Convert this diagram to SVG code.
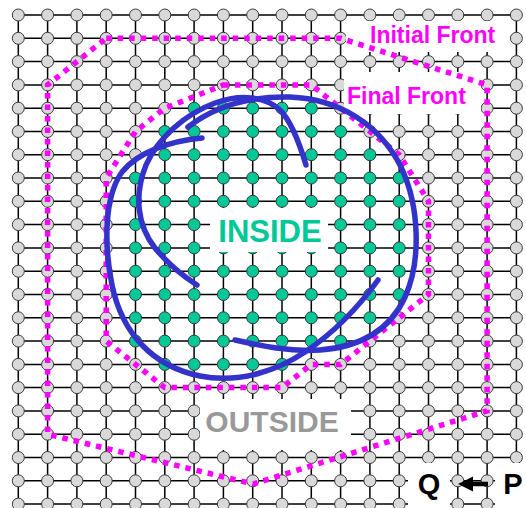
<svg xmlns="http://www.w3.org/2000/svg" width="526" height="508" viewBox="0 0 526 508">
<style>
.grid{stroke:#000;stroke-width:1.5;fill:none}
circle{r:6px;stroke:#3a3a3a;stroke-width:1}
.o{fill:#d9d9d9}
.i{fill:#00c896}
.box{fill:#fff}
.front{fill:none;stroke:#ff00ff;stroke-width:5.5;stroke-dasharray:5.5 6;stroke-linejoin:miter}
.curve{fill:none;stroke:#3333cc;stroke-width:5.5;stroke-linecap:round;stroke-linejoin:round}
.lbl{font-family:"Liberation Sans",Arial,sans-serif;font-weight:bold}
</style>
<rect width="526" height="508" fill="#fff"/>
<g id="connectors">
<path class="grid" d="M18.3,15H516.4M18.3,38.3H516.4M18.3,61.6H516.4M18.3,84.9H516.4M18.3,108.2H516.4M18.3,131.5H516.4M18.3,154.7H516.4M18.3,178H516.4M18.3,201.3H516.4M18.3,224.6H516.4M18.3,247.9H516.4M18.3,271.2H516.4M18.3,294.5H516.4M18.3,317.8H516.4M18.3,341.1H516.4M18.3,364.4H516.4M18.3,387.6H516.4M18.3,410.9H516.4M18.3,434.2H516.4M18.3,457.5H516.4M18.3,480.8H516.4M18.3,504.1H516.4M18.3,15V504.1M47.6,15V504.1M76.9,15V504.1M106.2,15V504.1M135.5,15V504.1M164.8,15V504.1M194.1,15V504.1M223.4,15V504.1M252.7,15V504.1M282,15V504.1M311.3,15V504.1M340.6,15V504.1M369.9,15V504.1M399.2,15V504.1M428.5,15V504.1M457.8,15V504.1M487.1,15V504.1M516.4,15V504.1"/>
</g>
<g id="nodes">
<g id="row0" transform="translate(0,15)"><circle class="o" cx="18.3"/><circle class="o" cx="47.6"/><circle class="o" cx="76.9"/><circle class="o" cx="106.2"/><circle class="o" cx="135.5"/><circle class="o" cx="164.8"/><circle class="o" cx="194.1"/><circle class="o" cx="223.4"/><circle class="o" cx="252.7"/><circle class="o" cx="282"/><circle class="o" cx="311.3"/><circle class="o" cx="340.6"/><circle class="o" cx="369.9"/><circle class="o" cx="399.2"/><circle class="o" cx="428.5"/><circle class="o" cx="457.8"/><circle class="o" cx="487.1"/><circle class="o" cx="516.4"/></g>
<g id="row1" transform="translate(0,38.3)"><circle class="o" cx="18.3"/><circle class="o" cx="47.6"/><circle class="o" cx="76.9"/><circle class="o" cx="106.2"/><circle class="o" cx="135.5"/><circle class="o" cx="164.8"/><circle class="o" cx="194.1"/><circle class="o" cx="223.4"/><circle class="o" cx="252.7"/><circle class="o" cx="282"/><circle class="o" cx="311.3"/><circle class="o" cx="340.6"/><circle class="o" cx="369.9"/><circle class="o" cx="399.2"/><circle class="o" cx="428.5"/><circle class="o" cx="457.8"/><circle class="o" cx="487.1"/><circle class="o" cx="516.4"/></g>
<g id="row2" transform="translate(0,61.6)"><circle class="o" cx="18.3"/><circle class="o" cx="47.6"/><circle class="o" cx="76.9"/><circle class="o" cx="106.2"/><circle class="o" cx="135.5"/><circle class="o" cx="164.8"/><circle class="o" cx="194.1"/><circle class="o" cx="223.4"/><circle class="o" cx="252.7"/><circle class="o" cx="282"/><circle class="o" cx="311.3"/><circle class="o" cx="340.6"/><circle class="o" cx="369.9"/><circle class="o" cx="399.2"/><circle class="o" cx="428.5"/><circle class="o" cx="457.8"/><circle class="o" cx="487.1"/><circle class="o" cx="516.4"/></g>
<g id="row3" transform="translate(0,84.9)"><circle class="o" cx="18.3"/><circle class="o" cx="47.6"/><circle class="o" cx="76.9"/><circle class="o" cx="106.2"/><circle class="o" cx="135.5"/><circle class="o" cx="164.8"/><circle class="o" cx="194.1"/><circle class="o" cx="223.4"/><circle class="o" cx="252.7"/><circle class="o" cx="282"/><circle class="o" cx="311.3"/><circle class="o" cx="340.6"/><circle class="o" cx="369.9"/><circle class="o" cx="399.2"/><circle class="o" cx="428.5"/><circle class="o" cx="457.8"/><circle class="o" cx="487.1"/><circle class="o" cx="516.4"/></g>
<g id="row4" transform="translate(0,108.2)"><circle class="o" cx="18.3"/><circle class="o" cx="47.6"/><circle class="o" cx="76.9"/><circle class="o" cx="106.2"/><circle class="o" cx="135.5"/><circle class="o" cx="164.8"/><circle class="i" cx="194.1"/><circle class="i" cx="223.4"/><circle class="i" cx="252.7"/><circle class="i" cx="282"/><circle class="i" cx="311.3"/><circle class="o" cx="340.6"/><circle class="o" cx="369.9"/><circle class="o" cx="399.2"/><circle class="o" cx="428.5"/><circle class="o" cx="457.8"/><circle class="o" cx="487.1"/><circle class="o" cx="516.4"/></g>
<g id="row5" transform="translate(0,131.5)"><circle class="o" cx="18.3"/><circle class="o" cx="47.6"/><circle class="o" cx="76.9"/><circle class="o" cx="106.2"/><circle class="o" cx="135.5"/><circle class="i" cx="164.8"/><circle class="i" cx="194.1"/><circle class="i" cx="223.4"/><circle class="i" cx="252.7"/><circle class="i" cx="282"/><circle class="i" cx="311.3"/><circle class="i" cx="340.6"/><circle class="o" cx="369.9"/><circle class="o" cx="399.2"/><circle class="o" cx="428.5"/><circle class="o" cx="457.8"/><circle class="o" cx="487.1"/><circle class="o" cx="516.4"/></g>
<g id="row6" transform="translate(0,154.7)"><circle class="o" cx="18.3"/><circle class="o" cx="47.6"/><circle class="o" cx="76.9"/><circle class="o" cx="106.2"/><circle class="o" cx="135.5"/><circle class="i" cx="164.8"/><circle class="i" cx="194.1"/><circle class="i" cx="223.4"/><circle class="i" cx="252.7"/><circle class="i" cx="282"/><circle class="i" cx="311.3"/><circle class="i" cx="340.6"/><circle class="i" cx="369.9"/><circle class="o" cx="399.2"/><circle class="o" cx="428.5"/><circle class="o" cx="457.8"/><circle class="o" cx="487.1"/><circle class="o" cx="516.4"/></g>
<g id="row7" transform="translate(0,178)"><circle class="o" cx="18.3"/><circle class="o" cx="47.6"/><circle class="o" cx="76.9"/><circle class="o" cx="106.2"/><circle class="i" cx="135.5"/><circle class="i" cx="164.8"/><circle class="i" cx="194.1"/><circle class="i" cx="223.4"/><circle class="i" cx="252.7"/><circle class="i" cx="282"/><circle class="i" cx="311.3"/><circle class="i" cx="340.6"/><circle class="i" cx="369.9"/><circle class="i" cx="399.2"/><circle class="o" cx="428.5"/><circle class="o" cx="457.8"/><circle class="o" cx="487.1"/><circle class="o" cx="516.4"/></g>
<g id="row8" transform="translate(0,201.3)"><circle class="o" cx="18.3"/><circle class="o" cx="47.6"/><circle class="o" cx="76.9"/><circle class="o" cx="106.2"/><circle class="i" cx="135.5"/><circle class="i" cx="164.8"/><circle class="i" cx="194.1"/><circle class="i" cx="223.4"/><circle class="i" cx="252.7"/><circle class="i" cx="282"/><circle class="i" cx="311.3"/><circle class="i" cx="340.6"/><circle class="i" cx="369.9"/><circle class="i" cx="399.2"/><circle class="o" cx="428.5"/><circle class="o" cx="457.8"/><circle class="o" cx="487.1"/><circle class="o" cx="516.4"/></g>
<g id="row9" transform="translate(0,224.6)"><circle class="o" cx="18.3"/><circle class="o" cx="47.6"/><circle class="o" cx="76.9"/><circle class="o" cx="106.2"/><circle class="i" cx="135.5"/><circle class="i" cx="164.8"/><circle class="i" cx="194.1"/><circle class="i" cx="223.4"/><circle class="i" cx="252.7"/><circle class="i" cx="282"/><circle class="i" cx="311.3"/><circle class="i" cx="340.6"/><circle class="i" cx="369.9"/><circle class="i" cx="399.2"/><circle class="o" cx="428.5"/><circle class="o" cx="457.8"/><circle class="o" cx="487.1"/><circle class="o" cx="516.4"/></g>
<g id="row10" transform="translate(0,247.9)"><circle class="o" cx="18.3"/><circle class="o" cx="47.6"/><circle class="o" cx="76.9"/><circle class="o" cx="106.2"/><circle class="i" cx="135.5"/><circle class="i" cx="164.8"/><circle class="i" cx="194.1"/><circle class="i" cx="223.4"/><circle class="i" cx="252.7"/><circle class="i" cx="282"/><circle class="i" cx="311.3"/><circle class="i" cx="340.6"/><circle class="i" cx="369.9"/><circle class="i" cx="399.2"/><circle class="o" cx="428.5"/><circle class="o" cx="457.8"/><circle class="o" cx="487.1"/><circle class="o" cx="516.4"/></g>
<g id="row11" transform="translate(0,271.2)"><circle class="o" cx="18.3"/><circle class="o" cx="47.6"/><circle class="o" cx="76.9"/><circle class="o" cx="106.2"/><circle class="i" cx="135.5"/><circle class="i" cx="164.8"/><circle class="i" cx="194.1"/><circle class="i" cx="223.4"/><circle class="i" cx="252.7"/><circle class="i" cx="282"/><circle class="i" cx="311.3"/><circle class="i" cx="340.6"/><circle class="i" cx="369.9"/><circle class="i" cx="399.2"/><circle class="o" cx="428.5"/><circle class="o" cx="457.8"/><circle class="o" cx="487.1"/><circle class="o" cx="516.4"/></g>
<g id="row12" transform="translate(0,294.5)"><circle class="o" cx="18.3"/><circle class="o" cx="47.6"/><circle class="o" cx="76.9"/><circle class="o" cx="106.2"/><circle class="i" cx="135.5"/><circle class="i" cx="164.8"/><circle class="i" cx="194.1"/><circle class="i" cx="223.4"/><circle class="i" cx="252.7"/><circle class="i" cx="282"/><circle class="i" cx="311.3"/><circle class="i" cx="340.6"/><circle class="i" cx="369.9"/><circle class="i" cx="399.2"/><circle class="o" cx="428.5"/><circle class="o" cx="457.8"/><circle class="o" cx="487.1"/><circle class="o" cx="516.4"/></g>
<g id="row13" transform="translate(0,317.8)"><circle class="o" cx="18.3"/><circle class="o" cx="47.6"/><circle class="o" cx="76.9"/><circle class="o" cx="106.2"/><circle class="i" cx="135.5"/><circle class="i" cx="164.8"/><circle class="i" cx="194.1"/><circle class="i" cx="223.4"/><circle class="i" cx="252.7"/><circle class="i" cx="282"/><circle class="i" cx="311.3"/><circle class="i" cx="340.6"/><circle class="i" cx="369.9"/><circle class="o" cx="399.2"/><circle class="o" cx="428.5"/><circle class="o" cx="457.8"/><circle class="o" cx="487.1"/><circle class="o" cx="516.4"/></g>
<g id="row14" transform="translate(0,341.1)"><circle class="o" cx="18.3"/><circle class="o" cx="47.6"/><circle class="o" cx="76.9"/><circle class="o" cx="106.2"/><circle class="i" cx="135.5"/><circle class="i" cx="164.8"/><circle class="i" cx="194.1"/><circle class="i" cx="223.4"/><circle class="i" cx="252.7"/><circle class="i" cx="282"/><circle class="i" cx="311.3"/><circle class="i" cx="340.6"/><circle class="o" cx="369.9"/><circle class="o" cx="399.2"/><circle class="o" cx="428.5"/><circle class="o" cx="457.8"/><circle class="o" cx="487.1"/><circle class="o" cx="516.4"/></g>
<g id="row15" transform="translate(0,364.4)"><circle class="o" cx="18.3"/><circle class="o" cx="47.6"/><circle class="o" cx="76.9"/><circle class="o" cx="106.2"/><circle class="o" cx="135.5"/><circle class="i" cx="164.8"/><circle class="i" cx="194.1"/><circle class="i" cx="223.4"/><circle class="i" cx="252.7"/><circle class="i" cx="282"/><circle class="o" cx="311.3"/><circle class="o" cx="340.6"/><circle class="o" cx="369.9"/><circle class="o" cx="399.2"/><circle class="o" cx="428.5"/><circle class="o" cx="457.8"/><circle class="o" cx="487.1"/><circle class="o" cx="516.4"/></g>
<g id="row16" transform="translate(0,387.6)"><circle class="o" cx="18.3"/><circle class="o" cx="47.6"/><circle class="o" cx="76.9"/><circle class="o" cx="106.2"/><circle class="o" cx="135.5"/><circle class="o" cx="164.8"/><circle class="o" cx="194.1"/><circle class="o" cx="223.4"/><circle class="o" cx="252.7"/><circle class="o" cx="282"/><circle class="o" cx="311.3"/><circle class="o" cx="340.6"/><circle class="o" cx="369.9"/><circle class="o" cx="399.2"/><circle class="o" cx="428.5"/><circle class="o" cx="457.8"/><circle class="o" cx="487.1"/><circle class="o" cx="516.4"/></g>
<g id="row17" transform="translate(0,410.9)"><circle class="o" cx="18.3"/><circle class="o" cx="47.6"/><circle class="o" cx="76.9"/><circle class="o" cx="106.2"/><circle class="o" cx="135.5"/><circle class="o" cx="164.8"/><circle class="o" cx="194.1"/><circle class="o" cx="223.4"/><circle class="o" cx="252.7"/><circle class="o" cx="282"/><circle class="o" cx="311.3"/><circle class="o" cx="340.6"/><circle class="o" cx="369.9"/><circle class="o" cx="399.2"/><circle class="o" cx="428.5"/><circle class="o" cx="457.8"/><circle class="o" cx="487.1"/><circle class="o" cx="516.4"/></g>
<g id="row18" transform="translate(0,434.2)"><circle class="o" cx="18.3"/><circle class="o" cx="47.6"/><circle class="o" cx="76.9"/><circle class="o" cx="106.2"/><circle class="o" cx="135.5"/><circle class="o" cx="164.8"/><circle class="o" cx="194.1"/><circle class="o" cx="223.4"/><circle class="o" cx="252.7"/><circle class="o" cx="282"/><circle class="o" cx="311.3"/><circle class="o" cx="340.6"/><circle class="o" cx="369.9"/><circle class="o" cx="399.2"/><circle class="o" cx="428.5"/><circle class="o" cx="457.8"/><circle class="o" cx="487.1"/><circle class="o" cx="516.4"/></g>
<g id="row19" transform="translate(0,457.5)"><circle class="o" cx="18.3"/><circle class="o" cx="47.6"/><circle class="o" cx="76.9"/><circle class="o" cx="106.2"/><circle class="o" cx="135.5"/><circle class="o" cx="164.8"/><circle class="o" cx="194.1"/><circle class="o" cx="223.4"/><circle class="o" cx="252.7"/><circle class="o" cx="282"/><circle class="o" cx="311.3"/><circle class="o" cx="340.6"/><circle class="o" cx="369.9"/><circle class="o" cx="399.2"/><circle class="o" cx="428.5"/><circle class="o" cx="457.8"/><circle class="o" cx="487.1"/><circle class="o" cx="516.4"/></g>
<g id="row20" transform="translate(0,480.8)"><circle class="o" cx="18.3"/><circle class="o" cx="47.6"/><circle class="o" cx="76.9"/><circle class="o" cx="106.2"/><circle class="o" cx="135.5"/><circle class="o" cx="164.8"/><circle class="o" cx="194.1"/><circle class="o" cx="223.4"/><circle class="o" cx="252.7"/><circle class="o" cx="282"/><circle class="o" cx="311.3"/><circle class="o" cx="340.6"/><circle class="o" cx="369.9"/><circle class="o" cx="399.2"/><circle class="o" cx="428.5"/><circle class="o" cx="457.8"/><circle class="o" cx="487.1"/><circle class="o" cx="516.4"/></g>
<g id="row21" transform="translate(0,504.1)"><circle class="o" cx="18.3"/><circle class="o" cx="47.6"/><circle class="o" cx="76.9"/><circle class="o" cx="106.2"/><circle class="o" cx="135.5"/><circle class="o" cx="164.8"/><circle class="o" cx="194.1"/><circle class="o" cx="223.4"/><circle class="o" cx="252.7"/><circle class="o" cx="282"/><circle class="o" cx="311.3"/><circle class="o" cx="340.6"/><circle class="o" cx="369.9"/><circle class="o" cx="399.2"/><circle class="o" cx="428.5"/><circle class="o" cx="457.8"/><circle class="o" cx="487.1"/><circle class="o" cx="516.4"/></g>
</g>
<g id="labels">
<g id="label-initial-front"><rect class="box" x="346" y="21" width="164" height="31"/><text class="lbl" x="370" y="43" font-size="23" fill="#ff00ff">Initial Front</text></g>
<g id="label-final-front"><rect class="box" x="344" y="72" width="137" height="42"/><text class="lbl" x="347" y="104" font-size="23" fill="#ff00ff">Final Front</text></g>
<g id="label-inside"><rect class="box" x="210" y="208" width="118" height="44"/><text class="lbl" x="270" y="242" font-size="31" fill="#00c896" text-anchor="middle">INSIDE</text></g>
<g id="label-outside"><rect class="box" x="200" y="399" width="151" height="51"/><text class="lbl" x="272" y="432" font-size="30" fill="#999999" text-anchor="middle">OUTSIDE</text></g>
<g id="label-q"><rect class="box" x="408" y="463" width="42" height="45"/><text class="lbl" x="429" y="494" font-size="29" fill="#000" text-anchor="middle">Q</text></g>
<g id="label-p"><rect class="box" x="495" y="463" width="31" height="45"/><text class="lbl" x="513" y="494" font-size="29" fill="#000" text-anchor="middle">P</text></g>
<g id="arrow-p-q"><path d="M488,484H470" stroke="#000" stroke-width="4.5" fill="none"/><path d="M458,484L473,476.5V491.5Z" fill="#000"/></g>
</g>
<g id="fronts">
<path id="initial-front" class="front" d="M106.2,38.3L340.6,38.3L487.1,84.9L487.1,410.9L253,484L47.6,434.2L47.6,84.9Z"/>
<path id="final-front" class="front" d="M223.4,84.9L311.3,84.9L340.6,108.2L399.2,154.7L428.5,201.3L428.5,294.5L340.6,364.4L311.3,364.4L282,387.6L164.8,387.6L106.2,341.1L106.2,178L135.5,131.5L164.8,108.2Z"/>
</g>
<g id="boundary-curve">
<path class="curve" d="M306,165C300,145 292,122 280,110C265,96 240,94 215,103C185,114 158,138 146,165C134,195 137,225 155,248C168,264 183,276 197,285"/>
<path class="curve" d="M188,127C215,106 250,96 290,97C340,99 380,125 401,167C420,207 421,262 405,297C390,330 360,347 320,350C290,352 262,346 235,340"/>
<path class="curve" d="M202,138C170,141 138,152 122,172C104,197 104,245 112,285C122,333 152,366 200,376C240,384 278,370 305,352C335,332 360,305 378,280"/>
</g>
</svg>
